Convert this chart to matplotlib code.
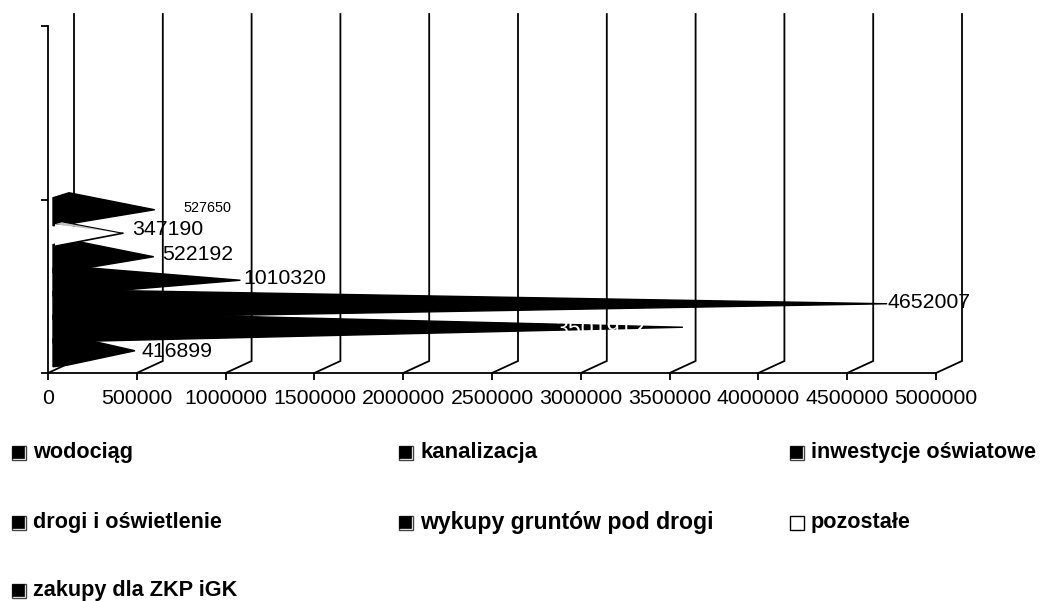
import numpy as np
import matplotlib
matplotlib.use("Agg")
import matplotlib.pyplot as plt
from matplotlib.patches import Rectangle

plt.rcParams['font.family'] = ['Liberation Sans', 'DejaVu Sans']

# dane
names = ["wodociąg", "kanalizacja", "inwestycje oświatowe", "drogi i oświetlenie",
         "wykupy gruntów pod drogi", "pozostałe", "zakupy dla ZKP iGK"]
values = [416899, 3501912, 4652007, 1010320, 522192, 347190, 527650]
x_ticks = [0, 500000, 1000000, 1500000, 2000000, 2500000, 3000000, 3500000, 4000000, 4500000, 5000000]
y_ticks = [0, 1, 2]

W, H = 1041, 601
fig = plt.figure(figsize=(W / 100, H / 100), dpi=100)
ax = fig.add_axes([48 / W, 1 - 373 / H, 888 / W, 347 / H])
ax.set_xlim(0, 5000000)
ax.set_ylim(0, 2)
ax.patch.set_alpha(0)

# przeliczenie pikseli na jednostki osi
px_x = 5000000 / 888
px_y = 2 / 347

# tylna sciana i linie siatki
for t in x_ticks:
    ax.plot([t, t + 26 * px_x, t + 26 * px_x], [0, 12 * px_y, 359 * px_y], color='black',
            lw=1.3, clip_on=False, zorder=1, solid_joinstyle='miter')

pitch = 23.5 * px_y
label_dx = [6, -128, 0, 3, 8, 9, 29]
label_dy = [-1, -2, 1, 2, 2, 4, 2]
label_size = [15.3, 16.7, 15.3, 15.3, 15.3, 15.3, 10.4]
label_color = ['black', 'white', 'black', 'black', 'black', 'black', 'black']
apex = [15, 15, 14, 14, 17, 17, 17]

for i, (name, v) in enumerate(zip(names, values)):
    yc = 0.5 + (i - 3) * pitch
    tip_x = v + 13 * px_x
    tip_y = yc + 6 * px_y
    if name == "pozostałe":
        # bialy stozek z szarym paskiem u gory, lezy na czarnych
        ax.fill([tip_x, 7 * px_x, 7 * px_x], [tip_y, tip_y + 9 * px_y, tip_y - 13 * px_y],
                facecolor='white', edgecolor='none', zorder=5, clip_on=False)
        ax.plot([7 * px_x, tip_x], [tip_y - 13 * px_y, tip_y], color='black', lw=1.2, zorder=5, clip_on=False)
        ax.fill([tip_x, 15 * px_x, 7 * px_x], [tip_y, tip_y + 11.3 * px_y, tip_y + 9 * px_y],
                facecolor='#c0c0c0', edgecolor='none', zorder=5, clip_on=False)
        ax.plot([15 * px_x, tip_x], [tip_y + 11.3 * px_y, tip_y], color='black', lw=0.8, zorder=5, clip_on=False)
    else:
        # podstawa stozka rysowana jak w oryginale: plaska z lewej strony
        ax.fill([tip_x, 21 * px_x, 5 * px_x, 5 * px_x, 19 * px_x],
                [tip_y, tip_y + apex[i] * px_y, tip_y + 12 * px_y, tip_y - 16 * px_y, tip_y - 14.5 * px_y],
                facecolor='black', edgecolor='black', lw=1.0, zorder=4, clip_on=False)
    ax.annotate(str(v), xy=(tip_x, tip_y), xytext=(label_dx[i], label_dy[i]),
                textcoords='offset pixels', ha='left', va='center',
                fontsize=label_size[i], color=label_color[i], zorder=6, annotation_clip=False)

# osie
for s in ['top', 'right']:
    ax.spines[s].set_visible(False)
for s in ['left', 'bottom']:
    ax.spines[s].set_linewidth(1.3)
    ax.spines[s].set_zorder(2)
ax.set_xticks(x_ticks)
ax.set_xticklabels([str(t) for t in x_ticks], fontsize=15.3)
ax.set_yticks(y_ticks)
ax.set_yticklabels([])
ax.tick_params(axis='both', length=4.8, width=1.3, color='black', pad=7)

# legenda
leg_x = [11, 398, 789]
leg_y = [452.5, 522.5, 590.5]
leg_size = [15.6, 16.0, 15.6, 15.6, 16.6, 15.6, 15.6]
for k, name in enumerate(names):
    col = k % 3
    row = k // 3
    x0, yc = leg_x[col], leg_y[row]
    if name == "pozostałe":
        fig.add_artist(Rectangle(((x0 + 0.5) / W, 1 - (yc + 7) / H), 14 / W, 14 / H, transform=fig.transFigure,
                                 facecolor='white', edgecolor='black', lw=1.0))
    else:
        fig.add_artist(Rectangle(((x0 + 0.5) / W, 1 - (yc + 7) / H), 14 / W, 14 / H, transform=fig.transFigure,
                                 facecolor='white', edgecolor='#444444', lw=1.0))
        fig.add_artist(Rectangle(((x0 + 0.5) / W, 1 - (yc + 5.5) / H), 12.5 / W, 12.5 / H, transform=fig.transFigure,
                                 facecolor='black', edgecolor='black', lw=0.5))
    fig.text((x0 + 22) / W, 1 - yc / H, name, fontsize=leg_size[k], fontweight='bold', ha='left', va='center')

fig.savefig("out.png", dpi=100)
